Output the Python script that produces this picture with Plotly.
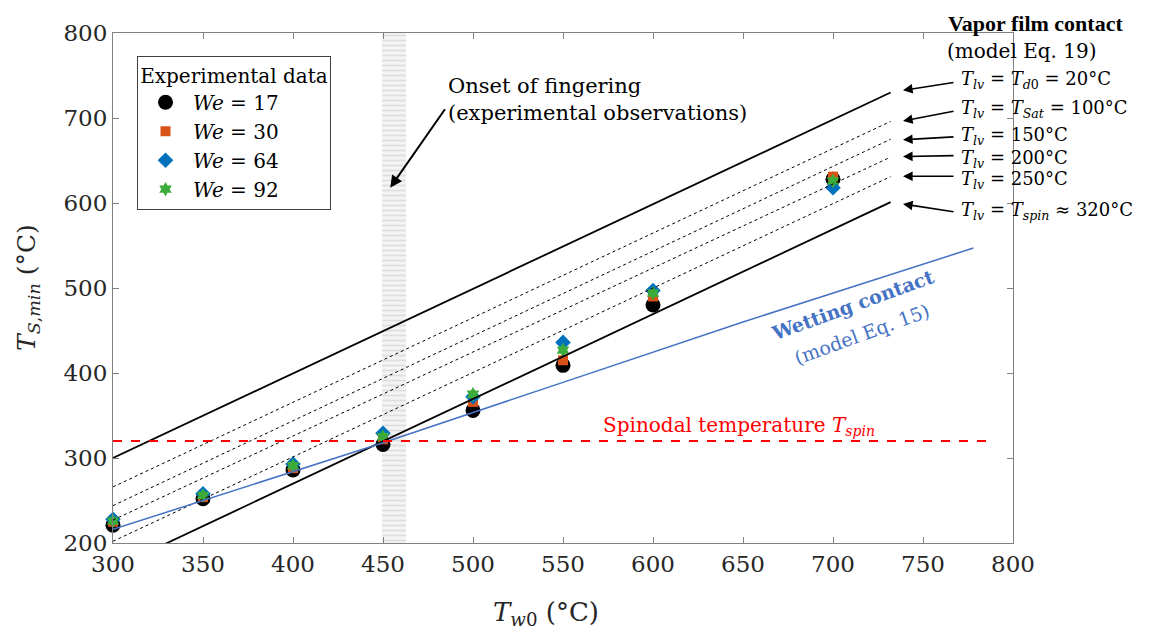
import plotly.graph_objects as go

# ---------------- data ----------------
Tw0 = [300, 350, 400, 450, 500, 550, 600, 700]
We17 = [221, 252, 286, 316, 356, 409, 480, 628]
We30 = [225, 254, 288, 322, 366, 415, 490, 631]
We64 = [228, 258, 293, 329, 372, 436, 497, 618]
We92 = [226, 256, 291, 325, 375, 427, 494, 626]

# vapor film contact model lines (start / end points)
vapor_x = [300, 732]
vapor_Tlv20 = [300, 730]
vapor_Tlv100 = [266, 696]
vapor_Tlv150 = [244, 675]
vapor_Tlv200 = [227, 654]
vapor_Tlv250 = [202, 631]
vapor_Tlv320 = [170, 601]

# wetting contact model
wet_x = [300, 450, 550, 650, 778]
wet_y = [216, 318, 389, 460, 547]

# spinodal temperature
spin_x = [300, 785]
spin_y = [320, 320]

# onset of fingering band
band_x0 = 449.5
band_x1 = 463.0

x_ticks = [300, 350, 400, 450, 500, 550, 600, 650, 700, 750, 800]
y_ticks = [200, 300, 400, 500, 600, 700, 800]

FONT = "DejaVu Serif"
FONT_B = "Liberation Serif"
TXT = "#262626"
AX = "#808080"

# page offset of the plot div (body margin)
OFF = 8
# plot area in page pixels
L, R, T, B = 113, 1013, 27, 543
W, H = 1149 - OFF, 636 - OFF


def px(xp):
    return (xp - L) / (R - L)


def py(yp):
    return (B - yp) / (B - T)


fig = go.Figure()

# band (wavy pattern approximated by stripes)
fig.add_trace(go.Bar(
    x=[(band_x0 + band_x1) / 2], y=[800 - 200], base=[200],
    width=[band_x1 - band_x0],
    marker=dict(color="white", line=dict(width=0),
                pattern=dict(shape="-", fgcolor="#c8c8c8", bgcolor="#f4f4f4", size=5, solidity=0.35)),
    showlegend=False, hoverinfo="skip"))

# markers
fig.add_trace(go.Scatter(x=Tw0, y=We17, mode="markers", name="<i>We</i> = 17",
                         marker=dict(symbol="circle", size=15, color="black"), cliponaxis=False))
fig.add_trace(go.Scatter(x=Tw0, y=We30, mode="markers", name="<i>We</i> = 30",
                         marker=dict(symbol="square", size=10, color="#D95319"), cliponaxis=False))
fig.add_trace(go.Scatter(x=Tw0, y=We64, mode="markers", name="<i>We</i> = 64",
                         marker=dict(symbol="diamond", size=12, color="#0072BD"), cliponaxis=False))
fig.add_trace(go.Scatter(x=Tw0, y=We92, mode="markers", name="<i>We</i> = 92",
                         marker=dict(symbol="hexagram", size=11, color="#3cab3a"), cliponaxis=False))

# lines
for yv, dash, w in [(vapor_Tlv20, "solid", 1.8), (vapor_Tlv100, "dot", 1),
                    (vapor_Tlv150, "dot", 1), (vapor_Tlv200, "dot", 1),
                    (vapor_Tlv250, "dot", 1), (vapor_Tlv320, "solid", 1.8)]:
    fig.add_trace(go.Scatter(x=vapor_x, y=yv, mode="lines", showlegend=False,
                             line=dict(color="black", width=w, dash=dash), hoverinfo="skip"))

fig.add_trace(go.Scatter(x=wet_x, y=wet_y, mode="lines", showlegend=False,
                         line=dict(color="#4472C4", width=1.5), hoverinfo="skip"))
fig.add_trace(go.Scatter(x=spin_x, y=spin_y, mode="lines", showlegend=False,
                         line=dict(color="#FF0000", width=2, dash="dash"), hoverinfo="skip"))

ann = []
# onset of fingering
ann.append(dict(xref="paper", yref="paper", x=px(446), y=py(94),
                text="Onset of fingering<br>(experimental observations)",
                showarrow=False, xanchor="left", yanchor="middle", align="left",
                font=dict(family=FONT, size=21, color="black")))
ann.append(dict(xref="x", yref="y", x=454, y=618, ax=485, ay=712, axref="x", ayref="y",
                text="", showarrow=True, arrowhead=2, arrowsize=1.2, arrowwidth=2, arrowcolor="black"))

# vapor film header
ann.append(dict(xref="paper", yref="paper", x=px(1035), y=py(17), text="<b>Vapor film contact</b>",
                showarrow=False, xanchor="center", yanchor="middle",
                font=dict(family=FONT_B, size=22, color="black")))
ann.append(dict(xref="paper", yref="paper", x=px(1022), y=py(45), text="(model Eq. 19)",
                showarrow=False, xanchor="center", yanchor="middle",
                font=dict(family=FONT, size=20, color="black")))

labels = [
    ("<i>T</i><sub><i>lv</i></sub> = <i>T</i><sub><i>d</i>0</sub> = 20°C", 75, 85, 77),
    ("<i>T</i><sub><i>lv</i></sub> = <i>T</i><sub><i>Sat</i></sub> = 100°C", 104, 116, 106),
    ("<i>T</i><sub><i>lv</i></sub> = 150°C", 131, 135, 132),
    ("<i>T</i><sub><i>lv</i></sub> = 200°C", 154, 152, 151),
    ("<i>T</i><sub><i>lv</i></sub> = 250°C", 176, 172, 172),
    ("<i>T</i><sub><i>lv</i></sub> = <i>T</i><sub><i>spin</i></sub> ≈ 320°C", 207, 200, 208),
]
for text, ty, hy, taily in labels:
    ann.append(dict(xref="paper", yref="paper", x=px(959), y=py(ty), text=text, showarrow=False,
                    xanchor="left", yanchor="middle", font=dict(family=FONT, size=18, color="black")))
    ann.append(dict(xref="paper", yref="paper", x=px(903), y=py(hy), ax=955 - 903, ay=taily - hy,
                    text="", showarrow=True, arrowhead=2, arrowsize=1.2, arrowwidth=1.6,
                    arrowcolor="black"))

# spinodal label
ann.append(dict(xref="paper", yref="paper", x=px(739), y=py(425),
                text="Spinodal temperature <i>T</i><sub><i>spin</i></sub>", showarrow=False,
                xanchor="center", yanchor="middle", font=dict(family=FONT, size=20, color="#FF0000")))

# wetting label
ann.append(dict(xref="paper", yref="paper", x=px(852), y=py(302), text="<b>Wetting contact</b>",
                showarrow=False, textangle=-20, xanchor="center", yanchor="middle",
                font=dict(family=FONT, size=19, color="#4472C4")))
ann.append(dict(xref="paper", yref="paper", x=px(862), y=py(332), text="(model Eq. 15)",
                showarrow=False, textangle=-20, xanchor="center", yanchor="middle",
                font=dict(family=FONT, size=19, color="#4472C4")))

# axis titles
ann.append(dict(xref="paper", yref="paper", x=px(546), y=py(614),
                text="<i>T</i><sub><i>w</i>0</sub> (°C)", showarrow=False,
                xanchor="center", yanchor="middle", font=dict(family=FONT, size=26, color=TXT)))
ann.append(dict(xref="paper", yref="paper", x=px(28), y=py(285),
                text="<i>T</i><sub><i>S</i>,<i>min</i></sub> (°C)", showarrow=False, textangle=-90,
                xanchor="center", yanchor="middle", font=dict(family=FONT, size=25, color=TXT)))

fig.update_layout(
    width=W, height=H,
    margin=dict(l=L - OFF, r=W - (R - OFF), t=T - OFF, b=H - (B - OFF)),
    paper_bgcolor="white", plot_bgcolor="white",
    font=dict(family=FONT, color=TXT),
    annotations=ann,
    showlegend=True,
    legend=dict(x=px(137), y=py(50), xanchor="left", yanchor="top",
                bgcolor="white", bordercolor="#404040", borderwidth=1,
                title=dict(text="Experimental data", side="top center",
                           font=dict(family=FONT, size=20, color="black")),
                font=dict(family=FONT, size=20, color="black"),
                itemwidth=45, tracegroupgap=0),
    xaxis=dict(range=[300, 800], tickvals=x_ticks, ticks="inside", ticklen=6, tickcolor=AX,
               showline=True, linecolor=AX, linewidth=1, mirror="ticks", showgrid=False, zeroline=False,
               tickfont=dict(family=FONT, size=23, color=TXT)),
    yaxis=dict(range=[200, 800], tickvals=y_ticks, ticks="inside", ticklen=6, tickcolor=AX,
               showline=True, linecolor=AX, linewidth=1, mirror="ticks", showgrid=False, zeroline=False,
               tickfont=dict(family=FONT, size=23, color=TXT)),
    bargap=0,
)

fig.write_html("out.html")
